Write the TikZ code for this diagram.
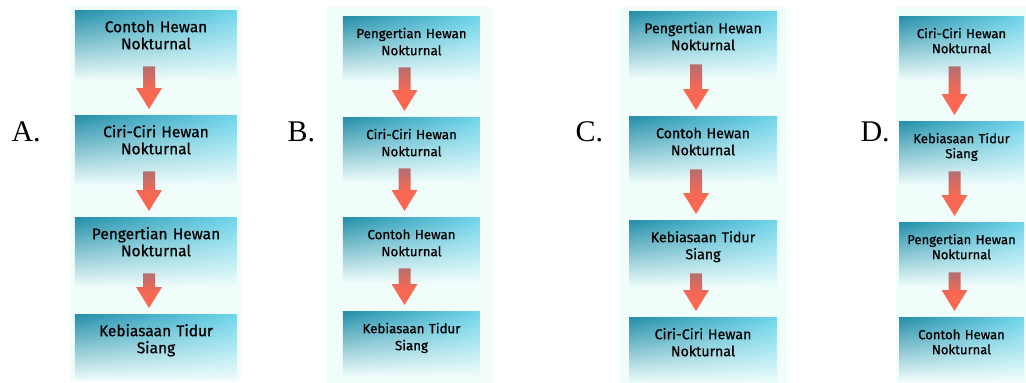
\documentclass[tikz,border=0pt]{standalone}
\usepackage{fontspec}
\setmainfont{Fira Sans}[FakeBold=0.7]
\newfontfamily\optfont{Liberation Serif}
\usetikzlibrary{fadings,calc}

\definecolor{tealdark}{RGB}{36,142,168}
\definecolor{teallight}{RGB}{112,214,236}
\definecolor{panelbg}{RGB}{240,253,251}
\definecolor{arrowtop}{RGB}{180,110,112}
\definecolor{arrowbot}{RGB}{255,104,80}

\tikzfading[name=boxfade, top color=transparent!0, middle color=transparent!5, bottom color=transparent!100]

% panah blok dari kotak #1 ke kotak #2
\newcommand{\flowarrow}[2]{%
  \shade[top color=arrowtop, bottom color=arrowbot, middle color=arrowbot!85!arrowtop]
    let \p1=([xshift=-7pt,yshift=14pt]#1.south), \p2=([xshift=-7pt,yshift=6pt]#2.north) in
    (\x1-6,\y1) -- (\x1+6,\y1) -- (\x1+6,\y2+21) -- (\x1+13,\y2+21) -- (\x1,\y2)
    -- (\x1-13,\y2+21) -- (\x1-6,\y2+21) -- cycle;}

\begin{document}
\begin{tikzpicture}[x=1pt,y=-1pt,
    stepbox/.style 2 args={rectangle, inner sep=0pt, anchor=north, align=center,
      text width=#1, text height=22pt, text depth=#2,
      left color=tealdark, right color=teallight, path fading=boxfade},
    panel/.style={fill=panelbg},
    optlabel/.style={anchor=base west, font=\optfont\fontsize{30}{30}\selectfont}]

  \useasboundingbox (0,0) rectangle (1026,383);

  % latar tiap pilihan
  \fill[panel] (70,5) rectangle (241,381);
  \fill[panel] (326,7) rectangle (493,383);
  \fill[panel] (620,7) rectangle (787,383);
  \fill[panel] (896,7) rectangle (1026,383);

  % label pilihan
  \node[optlabel] (la) at (8,141) {A.};
  \node[optlabel] (lb) at (284,141) {B.};
  \node[optlabel] (lc) at (572,141) {C.};
  \node[optlabel] (ld) at (857,141) {D.};

  % Pilihan A
  \begin{scope}[font=\fontsize{15.5}{17}\selectfont]
    \node[stepbox={162pt}{48pt}] (a1) at (156,10) {Contoh Hewan\\Nokturnal};
    \node[stepbox={162pt}{48pt}] (a2) at (156,115) {Ciri-Ciri Hewan\\Nokturnal};
    \node[stepbox={162pt}{48pt}] (a3) at (156,217) {Pengertian Hewan\\Nokturnal};
    \node[stepbox={162pt}{44pt}] (a4) at (156,314) {Kebiasaan Tidur\\Siang};
  \end{scope}
  \flowarrow{a1}{a2}
  \flowarrow{a2}{a3}
  \flowarrow{a3}{a4}

  % Pilihan B
  \begin{scope}[font=\fontsize{13.3}{17}\selectfont]
    \node[stepbox={137pt}{43pt}] (b1) at (411.5,16) {Pengertian Hewan\\Nokturnal};
    \node[stepbox={137pt}{43pt}] (b2) at (411.5,117) {Ciri-Ciri Hewan\\Nokturnal};
    \node[stepbox={137pt}{43pt}] (b3) at (411.5,217) {Contoh Hewan\\Nokturnal};
    \node[stepbox={137pt}{43pt}] (b4) at (411.5,311) {Kebiasaan Tidur\\Siang};
  \end{scope}
  \flowarrow{b1}{b2}
  \flowarrow{b2}{b3}
  \flowarrow{b3}{b4}

  % Pilihan C
  \begin{scope}[font=\fontsize{14.2}{17}\selectfont]
    \node[stepbox={148pt}{45pt}] (c1) at (703,11) {Pengertian Hewan\\Nokturnal};
    \node[stepbox={148pt}{45pt}] (c2) at (703,116) {Contoh Hewan\\Nokturnal};
    \node[stepbox={148pt}{45pt}] (c3) at (703,220) {Kebiasaan Tidur\\Siang};
    \node[stepbox={148pt}{44pt}] (c4) at (703,317) {Ciri-Ciri Hewan\\Nokturnal};
  \end{scope}
  \flowarrow{c1}{c2}
  \flowarrow{c2}{c3}
  \flowarrow{c3}{c4}

  % Pilihan D
  \begin{scope}[font=\fontsize{13.1}{15}\selectfont]
    \node[stepbox={125pt}{42pt}] (d1) at (961.5,16) {Ciri-Ciri Hewan\\Nokturnal};
    \node[stepbox={125pt}{42pt}] (d2) at (961.5,121) {Kebiasaan Tidur\\Siang};
    \node[stepbox={125pt}{42pt}] (d3) at (961.5,222) {Pengertian Hewan\\Nokturnal};
    \node[stepbox={125pt}{42pt}] (d4) at (961.5,317) {Contoh Hewan\\Nokturnal};
  \end{scope}
  \flowarrow{d1}{d2}
  \flowarrow{d2}{d3}
  \flowarrow{d3}{d4}
\end{tikzpicture}
\end{document}
